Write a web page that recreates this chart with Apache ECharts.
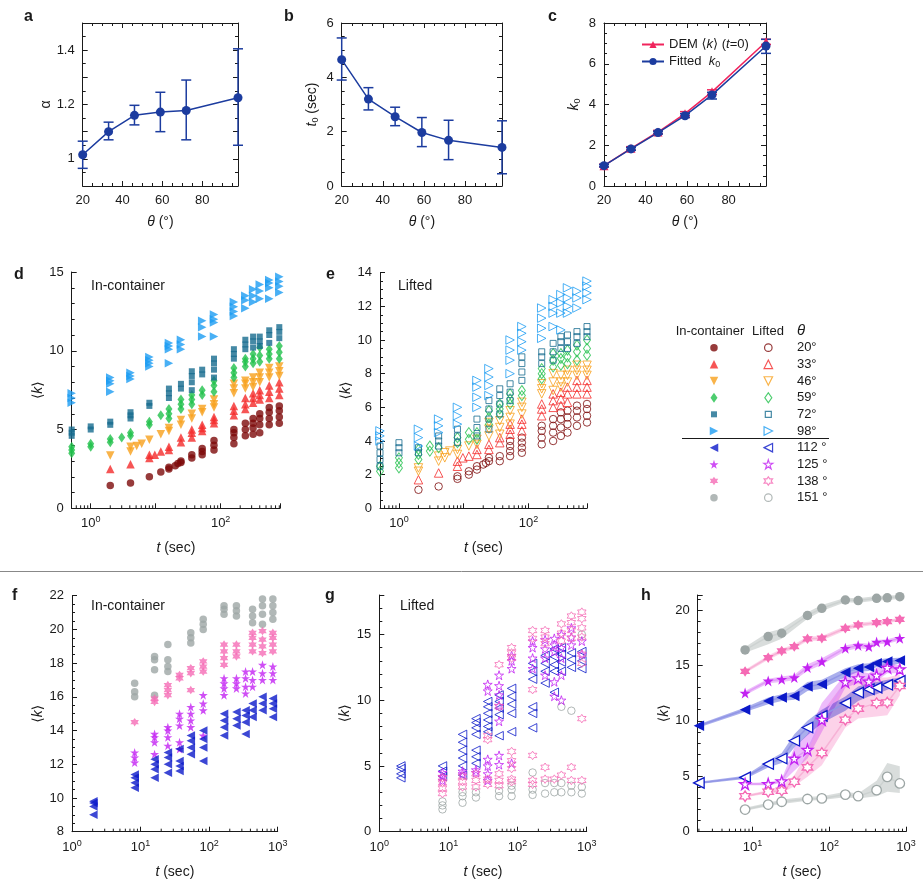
<!DOCTYPE html>
<html>
<head>
<meta charset="utf-8">
<script src="https://cdn.jsdelivr.net/npm/echarts@6/dist/echarts.min.js"></script>
<style>
  html, body { margin: 0; padding: 0; background: #fff; }
  #chart { width: 923px; height: 884px; }
</style>
</head>
<body>
<div id="chart"></div>
<script>
// ---- panels a-c: fit parameters vs theta
const thetaAC = [20, 33, 46, 59, 72, 98]
const alphaVal = [1.015, 1.10, 1.16, 1.172, 1.178, 1.225]
const alphaLo = [0.965, 1.07, 1.125, 1.10, 1.07, 1.05]
const alphaHi = [1.065, 1.135, 1.197, 1.245, 1.29, 1.405]
const t0Val = [4.65, 3.2, 2.55, 1.97, 1.68, 1.42]
const t0Lo = [3.9, 2.8, 2.22, 1.45, 0.97, 0.45]
const t0Hi = [5.45, 3.62, 2.9, 2.52, 2.42, 2.4]
const demVal = [1.0, 1.85, 2.65, 3.55, 4.62, 7.08]
const demLo = [0.93, 1.77, 2.57, 3.45, 4.5, 6.95]
const demHi = [1.07, 1.93, 2.73, 3.65, 4.72, 7.2]
const fitVal = [1.0, 1.82, 2.62, 3.45, 4.47, 6.87]
const fitLo = [0.94, 1.75, 2.55, 3.36, 4.27, 6.51]
const fitHi = [1.06, 1.89, 2.69, 3.55, 4.6, 7.2]

// ---- panel d: in-container, [t, [k values]]
const d20 = [[2, [1.45]], [4.1, [1.6]], [8, [2.0]], [12, [2.3]], [16, [2.5, 2.6]], [20, [2.7]], [22, [2.85]], [24.5, [2.9, 3.0]], [36, [3.2, 3.4]], [52, [3.4, 3.6, 3.8]], [79, [3.7, 4.0, 4.3]], [160, [4.1, 4.5, 4.8, 5.0]], [240, [4.6, 5.0, 5.4]], [316, [4.7, 5.1, 5.4, 5.7]], [400, [4.8, 5.3, 5.7, 6.0]], [560, [5.3, 5.7, 6.1, 6.4]], [800, [5.4, 5.8, 6.2, 6.5]]]
const d33 = [[2, [2.5]], [4.1, [2.8]], [8, [3.2, 3.4]], [9.7, [3.4]], [12, [3.6]], [16, [3.7, 3.9]], [24.5, [4.2, 4.5]], [36, [4.5, 4.8, 5.0]], [52, [4.9, 5.1, 5.3]], [79, [5.4, 5.6, 5.8]], [160, [5.9, 6.2, 6.5]], [240, [6.3, 6.6, 7.0]], [316, [6.7, 7.0, 7.3]], [400, [6.9, 7.2, 7.5]], [560, [7.0, 7.4, 7.8]], [800, [7.2, 7.6, 8.0]]]
const d46 = [[2, [3.35]], [4.1, [3.6, 3.9]], [5.1, [3.95]], [6.1, [4.1]], [8, [4.35]], [12, [4.7]], [16, [4.9, 5.1]], [24.5, [5.3, 5.6]], [36, [5.7, 6.0]], [52, [6.1, 6.3]], [79, [6.4, 6.6, 6.9]], [160, [7.3, 7.6, 7.9]], [240, [7.6, 7.9, 8.1]], [316, [7.7, 8.0, 8.3]], [400, [8.0, 8.3, 8.6]], [560, [8.3, 8.6, 8.9]], [800, [8.4, 8.7, 9.0]]]
const d59 = [[0.51, [3.5, 3.7, 3.9]], [1, [3.9, 4.1]], [2, [4.2, 4.4]], [3, [4.5]], [4.1, [4.6, 4.8]], [8, [5.3, 5.5]], [12, [5.9]], [16, [5.7, 6.0, 6.3]], [24.5, [6.3, 6.6, 6.9]], [36, [6.6, 6.9, 7.2]], [52, [7.2, 7.5]], [79, [7.4, 7.8, 8.1]], [160, [8.3, 8.6, 8.9]], [240, [9.0, 9.3, 9.5]], [316, [9.2, 9.5, 9.8]], [400, [9.3, 9.7, 10.2]], [560, [9.5, 9.8, 10.1]], [800, [9.5, 9.9, 10.3]]]
const d72 = [[0.51, [4.6, 4.8, 5.0]], [1, [5.0, 5.2]], [2, [5.3, 5.5]], [4.1, [5.7, 5.9, 6.1]], [8, [6.5, 6.7]], [16, [7.0, 7.3, 7.6]], [24.5, [7.6, 7.9]], [36, [7.5, 8.0, 8.4, 8.7]], [52, [8.5, 8.8]], [79, [8.3, 8.8, 9.2, 9.5]], [160, [9.5, 9.8, 10.1]], [240, [10.1, 10.4, 10.7]], [316, [10.2, 10.6, 10.9]], [400, [10.3, 10.6, 10.9]], [560, [10.5, 11.0, 11.3]], [800, [10.8, 11.2, 11.5]]]
const d98 = [[0.51, [6.7, 7.0, 7.3]], [2, [7.4, 7.9, 8.1, 8.3]], [4.1, [8.2, 8.4, 8.6]], [8, [9.0, 9.2, 9.4, 9.6]], [16, [9.2, 10.1, 10.3, 10.5]], [24.5, [10.1, 10.4, 10.7]], [52, [10.9, 11.5, 11.9]], [79, [10.9, 11.8, 12.0, 12.3]], [160, [12.2, 12.5, 12.8, 13.1]], [240, [12.7, 13.2, 13.5]], [316, [13.1, 13.5, 13.9]], [400, [13.3, 13.8, 14.2]], [560, [13.3, 14.0, 14.3, 14.5]], [800, [13.7, 14.1, 14.4, 14.7]]]

// ---- panel e: lifted
const e20 = [[2, [1.1]], [4.1, [1.3]], [8, [1.75, 1.9]], [12, [2.0, 2.2]], [16, [2.3, 2.5]], [20, [2.6]], [22, [2.7]], [24.5, [2.8, 3.0]], [36, [2.8, 3.1]], [52, [3.1, 3.4, 3.7, 4.0]], [79, [3.3, 3.6, 3.9, 4.2]], [160, [3.8, 4.2, 4.6, 4.9]], [240, [4.0, 4.5, 4.9, 5.3]], [316, [4.3, 4.8, 5.3, 5.7]], [400, [4.5, 5.0, 5.4, 5.8]], [560, [4.9, 5.4, 5.8, 6.1]], [800, [5.1, 5.5, 5.9, 6.2]]]
const e33 = [[2, [1.7]], [4.1, [2.1]], [8, [2.5, 2.8]], [9.7, [3.0]], [12, [3.1]], [16, [3.2, 3.5]], [24.5, [3.5, 3.8]], [36, [3.9, 4.2]], [52, [4.4, 4.7, 5.0]], [79, [4.6, 5.0, 5.3]], [160, [5.5, 5.9, 6.2]], [240, [6.0, 6.4, 6.8]], [316, [6.1, 6.5, 6.9]], [400, [6.3, 6.8, 7.2]], [560, [6.8, 7.2, 7.6]], [800, [6.8, 7.2, 7.6]]]
const e46 = [[2, [2.2, 2.4]], [4.1, [2.8, 3.1]], [5.1, [3.0, 3.3]], [6.1, [3.4]], [8, [3.2, 3.5]], [12, [3.7]], [16, [3.8, 4.1]], [24.5, [4.3, 4.7, 5.1]], [36, [4.4, 4.8, 5.2]], [52, [5.0, 5.4, 5.8]], [79, [5.6, 6.0, 6.3]], [160, [6.8, 7.1, 7.4]], [240, [7.0, 7.5, 8.0]], [316, [7.2, 7.5, 7.9]], [400, [7.5, 7.9, 8.2]], [560, [7.9, 8.2, 8.5]], [800, [7.9, 8.2, 8.5]]]
const e59 = [[0.51, [2.2, 2.5]], [1, [2.4, 2.7, 3.0]], [2, [2.9, 3.2, 3.5]], [3, [3.4, 3.7]], [4.1, [3.6]], [8, [3.9, 4.2]], [12, [4.1, 4.5]], [16, [4.1, 4.5]], [24.5, [5.0, 5.4, 5.8]], [36, [5.6, 5.9, 6.2]], [52, [6.2, 6.5, 6.8]], [79, [6.7, 7.0]], [160, [7.7, 8.0, 8.3]], [240, [8.4, 8.8, 9.2]], [316, [8.5, 8.9, 9.2]], [400, [8.6, 9.0, 9.4]], [560, [8.8, 9.3, 9.7]], [800, [9.1, 9.5, 10.0]]]
const e72 = [[0.51, [2.5, 2.9, 3.3, 3.7]], [1, [3.3, 3.6, 3.9]], [2, [3.3, 3.6]], [4.1, [3.7, 4.0, 4.3]], [8, [3.9, 4.3, 4.7]], [16, [4.3, 4.8, 5.3]], [24.5, [4.7, 5.3, 5.9, 6.4]], [36, [5.6, 6.2, 6.7, 7.1]], [52, [6.4, 6.9, 7.4]], [79, [7.6, 8.1, 8.6, 9.0]], [160, [8.6, 9.0, 9.3]], [240, [8.8, 9.3, 9.8]], [316, [9.5, 9.9, 10.2]], [400, [9.5, 9.9, 10.3]], [560, [9.8, 10.2, 10.5]], [800, [10.2, 10.5, 10.8]]]
const e98 = [[0.51, [4.0, 4.3, 4.6]], [2, [3.7, 4.2, 4.7]], [4.1, [4.5, 4.9, 5.3]], [8, [5.0, 5.5, 6.0]], [16, [6.0, 6.6, 7.2, 7.6]], [24.5, [6.7, 7.3, 7.8, 8.3]], [52, [8.0, 8.8, 9.4, 10.0]], [79, [9.4, 9.9, 10.4, 10.8]], [160, [10.1, 10.7, 11.3, 11.9]], [240, [10.8, 11.6, 12.0, 12.4]], [316, [10.6, 11.6, 12.2, 12.7]], [400, [11.6, 12.0, 12.5, 13.1]], [560, [11.9, 12.5, 12.9]], [800, [12.4, 12.8, 13.2, 13.5]]]

// ---- panel f: in-container, large angles
const f112 = [[2.05, [9.0, 9.5, 9.7, 9.8]], [8.2, [10.6, 10.9, 11.2, 11.4]], [16, [11.2, 11.7, 12.0, 12.3]], [25, [11.5, 12.0, 12.4, 12.7]], [37, [11.6, 11.9, 12.2, 12.9]], [54, [12.6, 13.0, 13.4, 13.7]], [82, [12.2, 13.0, 13.5, 14.0]], [165, [13.7, 14.2, 14.6, 15.0]], [250, [14.3, 14.7, 15.1]], [340, [13.8, 14.5, 14.9, 15.2]], [430, [14.8, 15.2, 15.6]], [600, [15.2, 15.6, 16.0]], [850, [14.8, 15.3, 15.6, 15.9]]]
const f125 = [[8.2, [12.1, 12.4, 12.7]], [16, [12.6, 13.3, 13.6, 13.8]], [25, [13.1, 13.6, 14.0, 14.2]], [37, [12.9, 13.3, 14.3, 14.7, 15.0]], [54, [14.2, 14.6, 15.0, 15.4]], [82, [13.7, 15.2, 15.6, 16.1]], [165, [16.1, 16.5, 16.8, 17.1]], [250, [16.5, 16.8, 17.1]], [340, [16.2, 16.6, 17.1, 17.5]], [430, [16.6, 17.0, 17.5]], [600, [17.0, 17.4, 17.9]], [850, [17.0, 17.4, 17.8]]]
const f138 = [[8.2, [14.5]], [16, [15.7, 15.9]], [25, [16.1, 16.4, 16.7]], [37, [17.1, 17.3]], [54, [16.4, 17.4, 17.7]], [82, [17.5, 17.8, 18.1]], [165, [17.9, 18.3, 18.7, 19.1]], [250, [18.4, 18.7, 19.1]], [430, [18.7, 19.1, 19.5, 19.8]], [600, [18.6, 19.0, 19.4, 19.9]], [850, [18.7, 19.1, 19.5, 19.8]]]
const f151 = [[8.2, [16.0, 16.3, 16.8]], [16, [16.1, 17.6, 18.2, 18.4]], [25, [17.5, 17.8, 18.2, 19.1]], [54, [19.2, 19.5, 19.8]], [82, [20.0, 20.3, 20.6]], [165, [20.9, 21.2, 21.4]], [250, [20.8, 21.1, 21.4]], [430, [20.4, 20.8, 21.2]], [600, [20.3, 20.9, 21.4, 21.8]], [850, [20.6, 21.0, 21.4, 21.8]]]

// ---- panel g: lifted, large angles
const g112 = [[2.05, [4.1, 4.4, 4.8, 5.0]], [8.2, [4.2, 4.6, 5.0]], [16, [4.3, 5.0, 5.6, 6.2, 6.8, 7.4]], [25, [5.2, 5.7, 6.2, 7.4, 7.9, 8.3, 8.6]], [37, [7.6, 8.0, 8.5, 9.0, 9.5, 9.9]], [54, [7.3, 8.9, 9.4, 9.9, 10.4]], [82, [7.6, 9.0, 9.7, 10.3, 10.9]], [165, [7.9, 9.0, 9.5, 11.6, 12.2, 12.8]], [250, [11.3, 12.2, 12.8, 13.4]], [340, [10.6, 12.2, 12.7, 13.3, 13.9]], [430, [12.2, 12.9, 13.5, 14.0]], [600, [12.5, 13.1, 13.6]], [850, [12.4, 13.0, 13.7]]]
const g125 = [[8.2, [3.9, 4.2, 4.5]], [16, [4.4, 4.6]], [25, [4.5, 4.7]], [37, [3.9, 4.4, 5.0, 5.5, 10.7, 11.2]], [54, [5.1, 5.8, 8.4, 9.6, 10.4, 11.1, 11.9]], [82, [5.2, 12.4, 13.0, 13.4]], [165, [12.4, 13.2, 14.0, 14.5]], [250, [11.9, 13.2, 13.9, 14.6]], [340, [10.3, 11.4, 13.7, 14.2, 14.7]], [430, [10.0, 11.9, 13.2, 14.0, 15.0]], [600, [14.2, 14.8, 15.5]], [850, [13.5, 14.5]]]
const g138 = [[8.2, [2.9, 3.3, 3.7, 4.1]], [16, [3.4, 3.8, 4.2]], [25, [3.4, 3.9, 4.4]], [37, [3.6, 4.0, 7.0, 7.3]], [54, [3.5, 3.9, 4.4, 9.5, 12.7]], [82, [3.8, 4.0, 4.8, 5.4, 6.1, 13.2, 13.6, 14.0]], [165, [3.6, 3.9, 5.8, 10.8, 14.7, 15.3]], [250, [4.0, 4.9, 14.3, 14.8, 15.3]], [340, [4.0]], [430, [4.3, 14.5, 15.1, 15.8]], [600, [3.9, 4.9, 14.7, 15.3, 15.9, 16.4]], [850, [3.9, 8.6, 12.8, 13.5, 14.8, 15.5, 16.2, 16.7]]]
const g151 = [[8.2, [1.7, 2.0, 2.3]], [16, [2.2, 2.7, 3.0]], [25, [2.6, 3.0]], [54, [2.7, 3.1]], [82, [2.7, 3.2, 3.5]], [165, [2.8, 3.2, 4.5]], [250, [2.9, 3.7]], [340, [3.0, 3.7]], [430, [3.0, 3.7, 9.5]], [600, [3.0, 3.5, 9.2]], [850, [2.9, 3.4, 15.0]]]

// ---- panel h: mean with spread, [t, mean, low, high]
const hIC151 = [[8, 16.4, 16.15, 16.65], [16, 17.6, 16.9, 18.0], [24, 17.9, 17.4, 18.3], [52, 19.5, 19.2, 19.8], [80, 20.15, 19.9, 20.45], [162, 20.9, 20.7, 21.1], [238, 20.85, 20.65, 21.05], [414, 21.05, 20.85, 21.25], [570, 21.1, 20.9, 21.3], [830, 21.2, 21.0, 21.35]]
const hIC138 = [[8, 14.45, 14.3, 14.6], [16, 15.7, 15.5, 15.9], [24, 16.3, 16.1, 16.5], [35, 16.7, 16.5, 16.9], [52, 17.4, 17.2, 17.6], [80, 17.45, 17.25, 17.65], [162, 18.35, 18.15, 18.55], [238, 18.65, 18.45, 18.85], [414, 18.85, 18.7, 19.0], [570, 18.95, 18.8, 19.1], [830, 19.15, 19.0, 19.3]]
const hIC125 = [[8, 12.5, 12.3, 12.7], [16, 13.6, 13.4, 13.8], [24, 13.75, 13.5, 14.0], [35, 13.9, 13.65, 14.15], [52, 14.8, 14.5, 15.1], [80, 15.35, 15.05, 15.65], [162, 16.55, 16.3, 16.8], [238, 16.8, 16.55, 17.05], [328, 16.7, 16.45, 16.95], [414, 17.1, 16.9, 17.3], [570, 17.15, 16.95, 17.35], [830, 17.45, 17.25, 17.65]]
const hIC112 = [[2, 9.55, 9.4, 9.7], [8, 11.0, 10.8, 11.2], [16, 11.8, 11.5, 12.1], [24, 12.1, 11.8, 12.4], [35, 12.25, 11.9, 12.6], [52, 13.1, 12.7, 13.5], [80, 13.3, 12.9, 13.7], [162, 14.35, 13.95, 14.75], [238, 14.75, 14.4, 15.1], [328, 14.85, 14.5, 15.2], [414, 15.2, 14.85, 15.5], [570, 15.35, 15.0, 15.65], [830, 15.45, 15.15, 15.7]]
const hL112 = [[2, 4.4, 4.3, 4.5], [8, 4.9, 4.75, 5.05], [16, 6.1, 5.8, 6.4], [24, 6.6, 6.2, 7.1], [35, 8.2, 7.6, 8.8], [52, 9.4, 8.7, 10.0], [80, 10.45, 9.8, 11.0], [162, 11.6, 10.9, 12.2], [238, 12.55, 11.8, 13.1], [328, 12.85, 12.2, 13.4], [414, 13.0, 12.4, 13.5], [570, 13.25, 12.8, 13.7], [830, 13.6, 13.2, 13.9]]
const hL125 = [[8, 4.3, 4.2, 4.4], [16, 4.3, 4.2, 4.45], [24, 4.55, 4.4, 4.75], [35, 6.6, 5.5, 7.6], [52, 7.4, 6.6, 8.8], [80, 10.1, 9.0, 11.6], [162, 13.5, 13.0, 14.2], [238, 13.85, 13.4, 14.5], [328, 13.55, 13.0, 14.3], [414, 14.1, 13.6, 14.8], [570, 14.8, 14.3, 15.3], [830, 14.65, 14.3, 15.0]]
const hL138 = [[8, 3.2, 3.1, 3.3], [16, 3.6, 3.45, 3.75], [24, 3.7, 3.5, 4.1], [35, 4.5, 4.1, 5.1], [52, 5.8, 4.95, 7.1], [80, 7.1, 6.0, 10.7], [162, 10.1, 9.4, 13.6], [238, 11.1, 10.2, 13.8], [414, 11.6, 10.4, 13.9], [570, 11.65, 10.5, 13.9], [830, 13.15, 12.3, 14.2]]
const hL151 = [[8, 2.0, 1.9, 2.15], [16, 2.45, 2.3, 2.6], [24, 2.7, 2.5, 2.9], [52, 2.95, 2.8, 3.15], [80, 3.0, 2.85, 3.2], [162, 3.35, 3.1, 3.6], [238, 3.2, 3.0, 3.45], [414, 3.75, 3.2, 4.6], [570, 4.95, 3.6, 6.2], [830, 4.35, 3.5, 5.9]]

// ---- legend rows
const legendThetas = [20, 33, 46, 59, 72, 98, 112, 125, 138, 151]
const legendLabels = ['20°', '33°', '46°', '59°', '72°', '98°', '112 °', '125 °', '138 °', '151 °']

const FONT = 'Liberation Sans, Arial, DejaVu Sans, sans-serif'
const INK = '#1a1a1a'
const BLUE = '#1c3c9f'
const COL = {
  20: '#7d0a0a', 33: '#f42b2b', 46: '#f8a01c', 59: '#20c04b', 72: '#166b8e',
  98: '#1b9cf2', 112: '#0b19c9', 125: '#c322f2', 138: '#f56bb5', 151: '#9da6a5'
}
const STAR5 = 'path://M0,-10L2.245,-3.09L9.51,-3.09L3.633,1.18L5.88,8.09L0,3.82L-5.88,8.09L-3.633,1.18L-9.51,-3.09L-2.245,-3.09Z'
const STAR6 = 'path://M0,-10L2.887,-5L8.66,-5L5.774,0L8.66,5L2.887,5L0,10L-2.887,5L-8.66,5L-5.774,0L-8.66,-5L-2.887,-5Z'
// symbol, rotation, size
const SYM = {
  20: ['circle', 0, 7.5], 33: ['triangle', 0, 8.5], 46: ['triangle', 180, 8.5],
  59: ['diamond', 0, [7, 10]], 72: ['rect', 0, 6], 98: ['triangle', -90, 8.5],
  112: ['triangle', 90, 8.5], 125: [STAR5, 0, 9], 138: [STAR6, 0, 8.5], 151: ['circle', 0, 7.5]
}

function pts(cols) {
  return cols.flatMap(([t, ks]) => ks.map(k => [t, k]))
}

const labelStyle = { fontSize: 13, color: INK, fontFamily: FONT }
const italic = { fontStyle: 'italic', fontSize: 14, fontFamily: FONT, color: INK }
const sub = { fontSize: 9, fontFamily: FONT, color: INK, padding: [7, 0, 0, 0] }
const nameStyle = { fontSize: 14, fontFamily: FONT, color: INK, rich: { i: italic, s: sub } }

// box axes (a-c): ticks on all four sides
function boxAxes(grid, xr, yr, yfmt, yname, ygap) {
  const tick = { show: true, inside: true, length: 5, lineStyle: { color: INK } }
  const minor = { show: true, splitNumber: 4, length: 3, lineStyle: { color: INK } }
  const line = { show: true, onZero: false, lineStyle: { color: INK, width: 1 } }
  const xfmt = v => (v % 20 === 0 ? String(v) : '')
  const xBase = { gridIndex: grid, type: 'value', min: xr[0], max: xr[1], interval: 20, axisLine: line, axisTick: tick, minorTick: minor, splitLine: { show: false } }
  const yBase = { gridIndex: grid, type: 'value', min: yr[0], max: yr[1], interval: yr[2], axisLine: line, axisTick: tick, minorTick: Object.assign({}, minor, { splitNumber: yr[3] }), splitLine: { show: false } }
  return {
    x: [
      Object.assign({}, xBase, { position: 'bottom', axisLabel: Object.assign({ formatter: xfmt, margin: 8 }, labelStyle), name: '{i|θ} (°)', nameLocation: 'middle', nameGap: 29, nameTextStyle: nameStyle }),
      Object.assign({}, xBase, { position: 'top', axisLabel: { show: false } })
    ],
    y: [
      Object.assign({}, yBase, { position: 'left', axisLabel: Object.assign({ formatter: yfmt, margin: 8 }, labelStyle), name: yname, nameLocation: 'middle', nameGap: ygap, nameTextStyle: nameStyle }),
      Object.assign({}, yBase, { position: 'right', axisLabel: { show: false } })
    ]
  }
}

// log time axis, labels only on chosen decades
function logAxis(grid, min, max, exps) {
  return {
    gridIndex: grid, type: 'log', logBase: 10, min: min, max: max,
    axisLine: { show: true, onZero: false, lineStyle: { color: INK } },
    axisTick: { show: true, inside: true, length: 5, lineStyle: { color: INK } },
    splitLine: { show: false },
    axisLabel: {
      margin: 7,
      formatter: v => {
        const e = Math.round(Math.log10(v))
        if (Math.abs(Math.log10(v) - e) > 1e-6 || exps.indexOf(e) < 0) return ''
        return '{b|10}{s|' + e + '}'
      },
      rich: {
        b: { fontSize: 13, color: INK, fontFamily: FONT },
        s: { fontSize: 9, color: INK, fontFamily: FONT, padding: [0, 0, 8, 0] }
      }
    },
    name: '{i|t} (sec)', nameLocation: 'middle', nameGap: 33, nameTextStyle: nameStyle
  }
}

function kAxis(grid, min, max, interval, split, gap) {
  return {
    gridIndex: grid, type: 'value', min: min, max: max, interval: interval,
    axisLine: { show: true, onZero: false, lineStyle: { color: INK } },
    axisTick: { show: true, inside: true, length: 5, lineStyle: { color: INK } },
    minorTick: { show: true, splitNumber: split, length: 3, lineStyle: { color: INK } },
    splitLine: { show: false },
    axisLabel: Object.assign({ margin: 8, formatter: v => (v % interval === 0 ? String(v) : '') }, labelStyle),
    name: '⟨{i|k}⟩', nameLocation: 'middle', nameGap: gap, nameTextStyle: nameStyle
  }
}

// minor ticks on the log axes (2..9 per decade)
function logMinor(ax, min, max, ymin) {
  const vals = []
  for (let e = -1; e < 3; e++) {
    for (let m = 2; m < 10; m++) {
      const v = m * Math.pow(10, e)
      if (v > min && v < max) vals.push([v, ymin])
    }
  }
  return {
    type: 'custom', xAxisIndex: ax, yAxisIndex: ax, silent: true, data: vals,
    renderItem: (p, api) => {
      const c = api.coord([api.value(0), api.value(1)])
      return { type: 'line', shape: { x1: c[0], y1: c[1], x2: c[0], y2: c[1] - 3 }, style: { stroke: INK, lineWidth: 1 } }
    }
  }
}

function errSeries(ax, xs, lo, hi, color, cap) {
  return {
    type: 'custom', xAxisIndex: ax, yAxisIndex: ax, silent: true, z: 3,
    data: xs.map((x, i) => [x, lo[i], hi[i]]),
    renderItem: (p, api) => {
      const a = api.coord([api.value(0), api.value(1)])
      const b = api.coord([api.value(0), api.value(2)])
      const st = { stroke: color, lineWidth: 1.5 }
      return {
        type: 'group', children: [
          { type: 'line', shape: { x1: a[0], y1: a[1], x2: b[0], y2: b[1] }, style: st },
          { type: 'line', shape: { x1: a[0] - cap, y1: a[1], x2: a[0] + cap, y2: a[1] }, style: st },
          { type: 'line', shape: { x1: b[0] - cap, y1: b[1], x2: b[0] + cap, y2: b[1] }, style: st }
        ]
      }
    }
  }
}

function lineSeries(ax, name, xs, ys, color, symbol, size) {
  return {
    type: 'line', name: name, xAxisIndex: ax, yAxisIndex: ax, z: 4,
    data: xs.map((x, i) => [x, ys[i]]),
    symbol: symbol, symbolSize: size, showSymbol: true,
    lineStyle: { color: color, width: 1.5 }, itemStyle: { color: color }
  }
}

function scat(ax, theta, cols, hollow) {
  const s = SYM[theta]
  return {
    type: 'scatter', xAxisIndex: ax, yAxisIndex: ax, silent: true,
    data: pts(cols), symbol: s[0], symbolRotate: s[1], symbolSize: s[2],
    itemStyle: hollow
      ? { color: 'rgba(255,255,255,0)', borderColor: COL[theta], borderWidth: 1 }
      : { color: COL[theta] }
  }
}

function band(ax, rows, fill) {
  return {
    type: 'custom', xAxisIndex: ax, yAxisIndex: ax, silent: true, z: 1,
    data: rows.map(r => [r[0], r[2], r[3]]),
    renderItem: (p, api) => {
      if (p.dataIndex !== 0) return null
      const top = rows.map(r => api.coord([r[0], r[3]]))
      const bot = rows.map(r => api.coord([r[0], r[2]])).reverse()
      return { type: 'polygon', shape: { points: top.concat(bot) }, style: { fill: fill } }
    }
  }
}

function hLine(ax, theta, rows, hollow, lineColor) {
  const s = SYM[theta]
  const size = Array.isArray(s[2]) ? s[2] : s[2] + 2
  return {
    type: 'line', xAxisIndex: ax, yAxisIndex: ax, silent: true, z: 3,
    data: rows.map(r => [r[0], r[1]]),
    symbol: s[0], symbolRotate: s[1], symbolSize: size, showSymbol: true,
    lineStyle: { color: lineColor, width: 1.5 },
    itemStyle: hollow
      ? { color: '#fff', borderColor: COL[theta], borderWidth: 1.3 }
      : { color: COL[theta], borderWidth: 0 }
  }
}

// ---- axes
const A = boxAxes(0, [20, 98], [0.9, 1.5, 0.1, 2], v => { const r = Math.round(v * 10); return r % 2 === 0 && r >= 10 ? String(r / 10) : '' }, 'α', 30)
const B = boxAxes(1, [20, 98], [0, 6, 2, 4], v => String(v), '{i|t}{s|0} (sec)', 22)
const C = boxAxes(2, [20, 98], [0, 8, 2, 4], v => String(v), '{i|k}{s|0}', 22)

const xAxes = [].concat(A.x, B.x, C.x, [
  logAxis(3, 0.51, 820, [0, 2]),
  logAxis(4, 0.51, 800, [0, 2]),
  logAxis(5, 1, 1000, [0, 1, 2, 3]),
  logAxis(6, 1, 1000, [0, 1, 2, 3]),
  logAxis(7, 1.93, 1000, [1, 2, 3]),
  { gridIndex: 8, type: 'value', min: -0.25, max: 1.25, show: false }
])
const yAxes = [].concat(A.y, B.y, C.y, [
  kAxis(3, 0, 15, 5, 5, 27),
  kAxis(4, 0, 14, 2, 4, 27),
  kAxis(5, 8, 22, 2, 4, 27),
  kAxis(6, 0, 18, 5, 5, 27),
  kAxis(7, 0, 21.35, 5, 5, 27),
  {
    gridIndex: 8, type: 'category', data: legendLabels, inverse: true, position: 'right',
    axisLine: { show: false }, axisTick: { show: false }, splitLine: { show: false },
    axisLabel: Object.assign({ margin: 15, align: 'left', interval: 0 }, labelStyle)
  }
])

const series = [
  errSeries(0, thetaAC, alphaLo, alphaHi, BLUE, 5),
  lineSeries(0, 'alpha', thetaAC, alphaVal, BLUE, 'circle', 9),
  errSeries(2, thetaAC, t0Lo, t0Hi, BLUE, 5),
  lineSeries(2, 't0', thetaAC, t0Val, BLUE, 'circle', 9),
  errSeries(4, thetaAC, demLo, demHi, '#f0245c', 5),
  lineSeries(4, 'DEM', thetaAC, demVal, '#f0245c', 'triangle', 9),
  errSeries(4, thetaAC, fitLo, fitHi, BLUE, 5),
  lineSeries(4, 'Fitted', thetaAC, fitVal, BLUE, 'circle', 9),

  logMinor(6, 0.51, 820, 0),
  logMinor(7, 0.51, 800, 0),
  logMinor(8, 1, 1000, 8),
  logMinor(9, 1, 1000, 0),
  logMinor(10, 1.93, 1000, 0),

  scat(6, 20, d20, false), scat(6, 33, d33, false), scat(6, 46, d46, false),
  scat(6, 59, d59, false), scat(6, 72, d72, false), scat(6, 98, d98, false),
  scat(7, 20, e20, true), scat(7, 33, e33, true), scat(7, 46, e46, true),
  scat(7, 59, e59, true), scat(7, 72, e72, true), scat(7, 98, e98, true),
  scat(8, 151, f151, false), scat(8, 138, f138, false), scat(8, 125, f125, false), scat(8, 112, f112, false),
  scat(9, 151, g151, true), scat(9, 112, g112, true), scat(9, 125, g125, true), scat(9, 138, g138, true),

  band(10, hIC151, 'rgba(160,170,168,0.4)'),
  band(10, hIC138, 'rgba(245,107,181,0.3)'),
  band(10, hIC125, 'rgba(195,34,242,0.3)'),
  band(10, hIC112, 'rgba(11,25,201,0.35)'),
  band(10, hL138, 'rgba(245,107,181,0.3)'),
  band(10, hL125, 'rgba(195,34,242,0.3)'),
  band(10, hL112, 'rgba(11,25,201,0.35)'),
  band(10, hL151, 'rgba(160,170,168,0.4)'),
  hLine(10, 151, hIC151, false, '#cdd2d1'),
  hLine(10, 138, hIC138, false, '#f7b3d6'),
  hLine(10, 125, hIC125, false, '#df9bf6'),
  hLine(10, 112, hIC112, false, '#9296e6'),
  hLine(10, 112, hL112, true, '#9296e6'),
  hLine(10, 125, hL125, true, '#df9bf6'),
  hLine(10, 138, hL138, true, '#f7b3d6'),
  hLine(10, 151, hL151, true, '#cdd2d1')
]

// legend table: one in-container and one lifted marker per row
legendThetas.forEach((th, i) => {
  const s = SYM[th]
  series.push({
    type: 'scatter', xAxisIndex: 11, yAxisIndex: 11, silent: true,
    data: [[0, legendLabels[i]]], symbol: s[0], symbolRotate: s[1], symbolSize: s[2],
    itemStyle: { color: COL[th] }
  })
  series.push({
    type: 'scatter', xAxisIndex: 11, yAxisIndex: 11, silent: true,
    data: [[1, legendLabels[i]]], symbol: s[0], symbolRotate: s[1], symbolSize: s[2],
    itemStyle: { color: 'rgba(255,255,255,0)', borderColor: COL[th], borderWidth: 1.2 }
  })
})

function txt(x, y, text, font, align) {
  return { type: 'text', x: x, y: y, silent: true, style: { text: text, font: font, fill: INK, align: align || 'left', verticalAlign: 'middle' } }
}
const bold = 'bold 16px ' + FONT
const plain = '14px ' + FONT

const graphic = [
  txt(24, 17, 'a', bold), txt(284, 17, 'b', bold), txt(548, 17, 'c', bold),
  txt(14, 275, 'd', bold), txt(326, 275, 'e', bold),
  txt(12, 596, 'f', bold), txt(325, 596, 'g', bold), txt(641, 596, 'h', bold),
  txt(91, 286, 'In-container', plain), txt(398, 286, 'Lifted', plain),
  txt(91, 606, 'In-container', plain), txt(400, 606, 'Lifted', plain),
  txt(710, 331, 'In-container', '13px ' + FONT, 'center'),
  txt(768, 331, 'Lifted', '13px ' + FONT, 'center'),
  txt(797, 331, 'θ', 'italic 15px ' + FONT),
  { type: 'line', silent: true, shape: { x1: 682, y1: 438.5, x2: 829, y2: 438.5 }, style: { stroke: INK, lineWidth: 1 } },
  { type: 'line', silent: true, shape: { x1: 0, y1: 571.5, x2: 923, y2: 571.5 }, style: { stroke: '#888', lineWidth: 1 } }
]

const chart = echarts.init(document.getElementById('chart'))
chart.setOption({
  animation: false,
  backgroundColor: '#fff',
  textStyle: { fontFamily: FONT },
  grid: [
    { left: 82.7, top: 23, width: 155.3, height: 163 },
    { left: 341.7, top: 23, width: 160.3, height: 163 },
    { left: 604, top: 23, width: 162, height: 163 },
    { left: 71.7, top: 272, width: 208.3, height: 236.3 },
    { left: 380, top: 272.7, width: 207, height: 235.6 },
    { left: 72, top: 595.7, width: 205.7, height: 236 },
    { left: 379.3, top: 595, width: 207.4, height: 236.7 },
    { left: 697.7, top: 595, width: 208.3, height: 236.7 },
    { left: 700.4, top: 339.3, width: 81.5, height: 166.7 }
  ],
  legend: {
    data: ['DEM', 'Fitted'], left: 636, top: 33, orient: 'vertical', itemGap: 4,
    itemWidth: 22, itemHeight: 9,
    formatter: n => (n === 'DEM' ? 'DEM ⟨{i|k}⟩ ({i|t}=0)' : 'Fitted  {i|k}{s|0}'),
    textStyle: { fontSize: 13, color: INK, fontFamily: FONT, rich: { i: { fontStyle: 'italic', fontSize: 13, fontFamily: FONT, color: INK }, s: sub } }
  },
  xAxis: xAxes,
  yAxis: yAxes,
  series: series,
  graphic: graphic
})
</script>
</body>
</html>
